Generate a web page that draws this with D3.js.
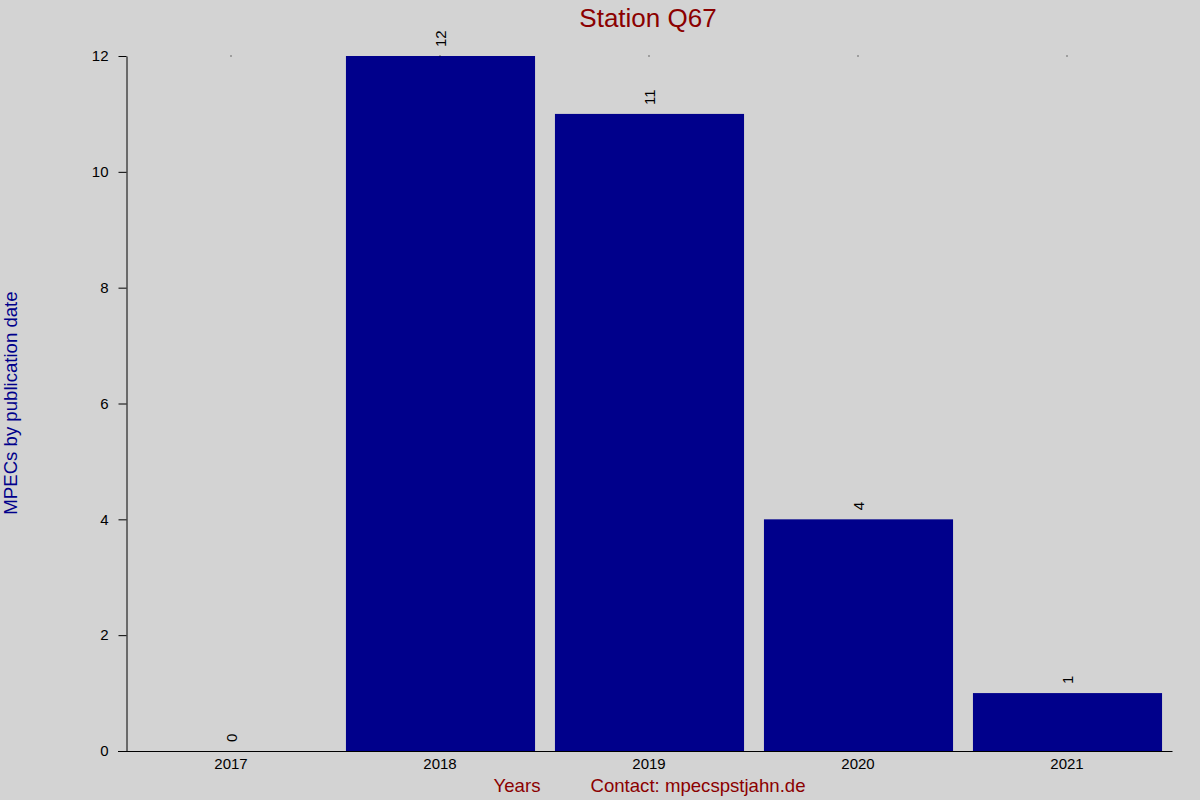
<!DOCTYPE html>
<html><head><meta charset="utf-8">
<script src="https://cdn.jsdelivr.net/npm/d3@7"></script>
<style>html,body{margin:0;padding:0;background:#d3d3d3;}svg{display:block;font-family:"Liberation Sans",Arial,sans-serif;}</style>
</head><body>
<svg id="c" width="1200" height="800"></svg>
<script>
const years = ["2017","2018","2019","2020","2021"];
const counts = [0,12,11,4,1];
const yTicks = [0,2,4,6,8,10,12];
const title = "Station Q67";
const yLabel = "MPECs by publication date";
const xLabel = "Years";
const contact = "Contact: mpecspstjahn.de";

const svg = d3.select("#c");
svg.append("rect").attr("width",1200).attr("height",800).attr("fill","#d3d3d3");
const x = d3.scaleBand().domain(years).range([126.5,1171.5]).paddingInner(0.1).paddingOuter(0.05);
const y = d3.scaleLinear().domain([0,12]).range([751,56]);

svg.selectAll("rect.bar").data(years).join("rect").attr("class","bar")
  .attr("x",d=>x(d)).attr("width",x.bandwidth()+1)
  .attr("y",(d,i)=>y(counts[i])).attr("height",(d,i)=>y(0)-y(counts[i]))
  .attr("fill","#00008b");

// y axis
const ya = svg.append("g").attr("transform","translate(126.5,0)")
  .call(d3.axisLeft(y).tickValues(yTicks).tickSize(8).tickPadding(10).tickSizeOuter(0));
ya.select(".domain").attr("stroke","#000");
ya.selectAll("text").attr("font-size",15).attr("fill","#000").attr("font-family","Liberation Sans, Arial, sans-serif");

// x axis
const xa = svg.append("g").attr("transform","translate(0,751)")
  .call(d3.axisBottom(x).tickSize(0).tickPadding(7).tickSizeOuter(0));
xa.select(".domain").attr("d","M118,0.5H1172.5").attr("stroke","#000");
xa.selectAll("text").attr("font-size",15).attr("fill","#000").attr("font-family","Liberation Sans, Arial, sans-serif");

// tiny top ticks
svg.selectAll("rect.dot").data(years).join("rect").attr("class","dot")
  .attr("x",d=>Math.round(x(d)+x.bandwidth()/2)-0.5).attr("y",55.5).attr("width",1).attr("height",1).attr("fill","#000");

// value labels
svg.selectAll("text.val").data(years).join("text").attr("class","val")
  .attr("transform",(d,i)=>`translate(${x(d)+x.bandwidth()/2+6},${y(counts[i])-9}) rotate(-90)`)
  .attr("font-size",15).attr("fill","#000").attr("text-anchor","start")
  .text((d,i)=>counts[i]);

svg.append("text").attr("x",648).attr("y",27).attr("text-anchor","middle")
  .attr("font-size",26).attr("fill","#8b0000").text(title);
svg.append("text").attr("transform","translate(17,403) rotate(-90)").attr("text-anchor","middle")
  .attr("font-size",18.6).attr("fill","#00008b").text(yLabel);
svg.append("text").attr("x",517).attr("y",792).attr("text-anchor","middle")
  .attr("font-size",18.6).attr("fill","#8b0000").text(xLabel);
svg.append("text").attr("x",698).attr("y",792).attr("text-anchor","middle")
  .attr("font-size",18.6).attr("fill","#8b0000").text(contact);
</script>
</body></html>
